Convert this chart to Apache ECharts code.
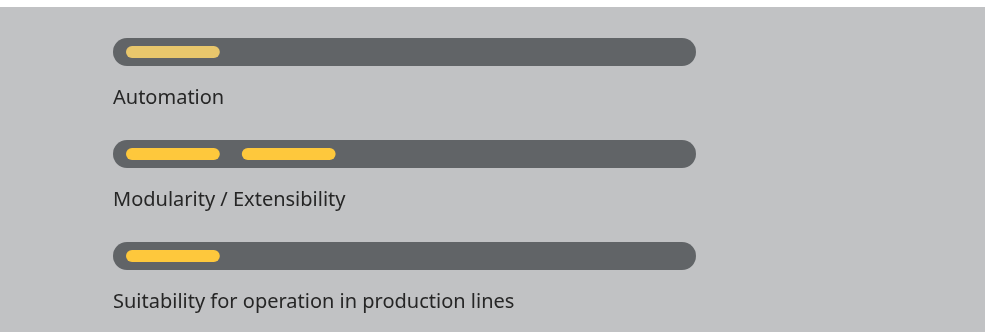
<!DOCTYPE html>
<html>
<head>
<meta charset="utf-8">
<script src="https://cdn.jsdelivr.net/npm/echarts@6/dist/echarts.min.js"></script>
<style>
  html, body { margin: 0; padding: 0; background: #ffffff; }
  .wrap { position: relative; width: 985px; height: 332px; }
  .echartsdiv { width: 985px; height: 332px; }
  .topstrip { position: absolute; left: 0; top: 0; width: 985px; height: 7px; background: #ffffff; pointer-events: none; }
</style>
</head>
<body>
<div class="wrap">
  <div id="chatMain" class="echartsdiv"></div>
  <div class="topstrip"></div>
</div>
<script>
// 评分项
const categories = ['Automation', 'Modularity / Extensibility', 'Suitability for operation in production lines'];
// 分值（满分 5）
const scores = [1, 2, 1];
const maxScore = 5;

const myechart = echarts.init(document.getElementById('chatMain'));

function renderItem(params, api) {
  const cat = api.value(0);
  const val = api.value(1);
  const start = api.coord([0, cat]);
  const end = api.coord([maxScore, cat]);
  const barH = 28;
  const pad = 13;   // 内边距
  const gap = 22;   // 小段间距
  const slot = (end[0] - start[0] - pad * 2 + gap) / maxScore;
  const children = [{
    type: 'rect',
    shape: { x: start[0], y: start[1] - barH / 2, width: end[0] - start[0], height: barH, r: barH / 2 },
    style: { fill: '#616467' }
  }];
  for (let k = 0; k < val; k++) {
    children.push({
      type: 'rect',
      shape: { x: start[0] + pad + k * slot, y: start[1] - 6, width: slot - gap, height: 12, r: 6 },
      style: { fill: cat === 0 ? '#e9c76c' : '#fec83c' }
    });
  }
  children.push({
    type: 'text',
    style: {
      text: categories[cat],
      x: start[0],
      y: start[1] + 46,
      verticalAlign: 'middle',
      align: 'left',
      fill: '#262626',
      font: '20px "Noto Sans"'
    }
  });
  return { type: 'group', children: children };
}

const option = {
  backgroundColor: '#c1c2c4',
  animation: false,
  grid: { left: 113, right: 289, top: 1, height: 306 },
  xAxis: { type: 'value', min: 0, max: maxScore, show: false },
  yAxis: { type: 'category', data: categories, inverse: true, show: false },
  series: [{
    type: 'custom',
    renderItem: renderItem,
    encode: { x: 1, y: 0 },
    data: scores.map((s, i) => [i, s])
  }]
};
myechart.setOption(option);
</script>
</body>
</html>
